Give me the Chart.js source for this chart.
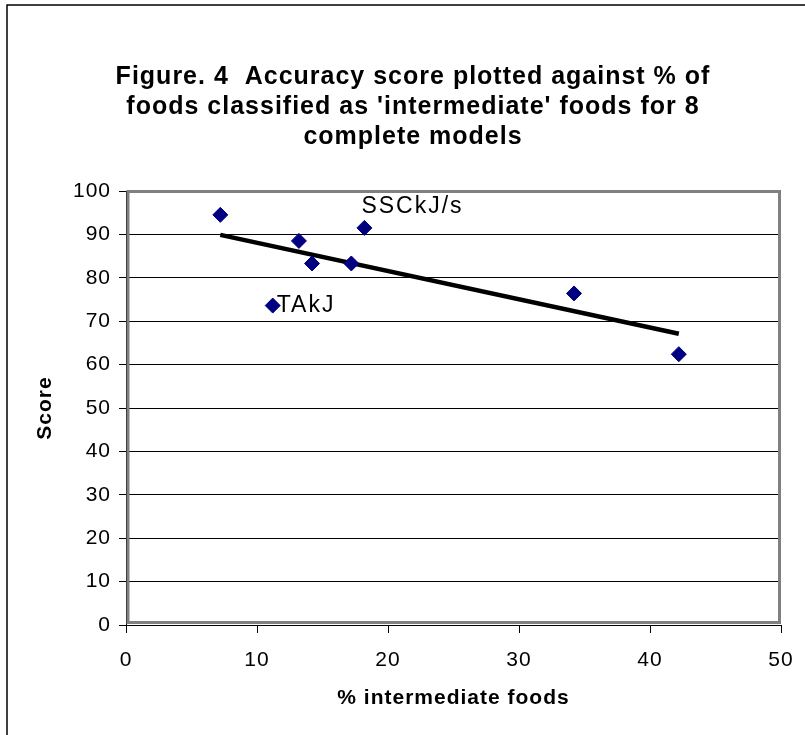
<!DOCTYPE html>
<html>
<head>
<meta charset="utf-8">
<script src="https://cdn.jsdelivr.net/npm/chart.js@4"></script>
<style>
  html, body { margin: 0; padding: 0; background: #fff; }
</style>
</head>
<body>
<canvas id="chart" width="805" height="735"></canvas>
<script>
  // values
  const intermediatePct = [7.2, 13.2, 14.2, 17.2, 18.2, 11.2, 34.2, 42.2];
  const scores = [94.5, 88.5, 83.3, 83.3, 91.5, 73.6, 76.4, 62.4];
  const pointNames = ['', '', '', '', 'SSCkJ/s', 'TAkJ', '', ''];
  const trendX = [7.2, 42.2];
  const trendY = [89.9, 67.1];
  const titleLines = [
    "Figure. 4  Accuracy score plotted against % of",
    "foods classified as 'intermediate' foods for 8",
    "complete models"
  ];

  const FONT = "'Liberation Sans', Arial, sans-serif";

  // the original text is set a bit wider than Arial
  const spacing = {
    id: 'spacing',
    beforeUpdate(chart) { if ('letterSpacing' in chart.ctx) chart.ctx.letterSpacing = '1px'; },
    beforeDraw(chart) { if ('letterSpacing' in chart.ctx) chart.ctx.letterSpacing = '1px'; }
  };

  const frame = {
    id: 'frame',
    beforeDraw(chart) {
      const ctx = chart.ctx;
      ctx.save();
      ctx.fillStyle = '#fff';
      ctx.fillRect(0, 0, chart.width, chart.height);
      ctx.strokeStyle = '#000';
      ctx.lineWidth = 1.5;
      ctx.beginPath();
      ctx.moveTo(7, chart.height + 2);
      ctx.lineTo(7, 5);
      ctx.lineTo(chart.width + 2, 5);
      ctx.stroke();
      ctx.restore();
    },
    beforeDatasetsDraw(chart) {
      const a = chart.chartArea;
      const ctx = chart.ctx;
      ctx.save();
      ctx.strokeStyle = '#808080';
      ctx.lineWidth = 3;
      ctx.strokeRect(a.left + 2, a.top + 0.5, a.right - a.left - 3.5, a.bottom - a.top - 3);
      ctx.restore();
    }
  };

  const labelOffsets = {
    'SSCkJ/s': { dx: -3, dy: -15, baseline: 'alphabetic' },
    'TAkJ': { dx: 4, dy: 0, baseline: 'middle' }
  };

  const pointLabels = {
    id: 'pointLabels',
    afterDatasetsDraw(chart) {
      const meta = chart.getDatasetMeta(0);
      const ctx = chart.ctx;
      ctx.save();
      ctx.font = '23px ' + FONT;
      ctx.fillStyle = '#000';
      ctx.textAlign = 'left';
      if ('letterSpacing' in ctx) ctx.letterSpacing = '2px';
      pointNames.forEach((name, i) => {
        if (!name) return;
        const pt = meta.data[i];
        const off = labelOffsets[name];
        ctx.textBaseline = off.baseline;
        ctx.fillText(name, pt.x + off.dx, pt.y + off.dy);
      });
      ctx.restore();
    }
  };

  new Chart(document.getElementById('chart'), {
    type: 'scatter',
    data: {
      datasets: [{
        label: 'Score',
        data: intermediatePct.map((x, i) => ({ x: x, y: scores[i] })),
        pointStyle: 'rectRot',
        pointRadius: 7.5,
        pointBackgroundColor: '#000080',
        pointBorderColor: '#000080',
        pointBorderWidth: 1,
        order: 0
      }, {
        type: 'line',
        label: 'Trend',
        data: trendX.map((x, i) => ({ x: x, y: trendY[i] })),
        borderColor: '#000',
        borderWidth: 4.5,
        pointRadius: 0,
        fill: false,
        order: 1
      }]
    },
    options: {
      responsive: false,
      animation: false,
      events: [],
      // left padding shifts the centred title to where it sits in the original
      layout: { padding: { left: 21, right: 0, top: 0, bottom: 0 } },
      plugins: {
        legend: { display: false },
        tooltip: { enabled: false },
        title: {
          display: true,
          text: titleLines,
          color: '#000',
          font: { family: FONT, size: 25, weight: 'bold', lineHeight: 30 / 25 },
          padding: { top: 62, bottom: 39 }
        }
      },
      scales: {
        x: {
          type: 'linear',
          min: 0,
          max: 50,
          afterFit(scale) {
            scale.height = 110;
            scale.paddingLeft = 0;
            scale.paddingRight = 24;
          },
          ticks: { stepSize: 10, color: '#000', padding: 15, font: { family: FONT, size: 21 } },
          grid: { drawOnChartArea: false, drawTicks: true, tickLength: 8, color: '#000' },
          border: { color: '#000', width: 1 },
          title: {
            display: true,
            text: '% intermediate foods',
            color: '#000',
            font: { family: FONT, size: 21, weight: 'bold' },
            padding: { top: 0, bottom: 24 }
          }
        },
        y: {
          min: 0,
          max: 100,
          afterFit(scale) { scale.width = 105; },
          ticks: { stepSize: 10, color: '#000', padding: 8, font: { family: FONT, size: 21 } },
          grid: { color: '#000', lineWidth: 1, tickLength: 7 },
          border: { color: '#000', width: 1 },
          title: {
            display: true,
            text: 'Score',
            color: '#000',
            font: { family: FONT, size: 21, weight: 'bold' },
            padding: { top: 12, bottom: 0 }
          }
        }
      }
    },
    plugins: [spacing, frame, pointLabels]
  });
</script>
</body>
</html>
